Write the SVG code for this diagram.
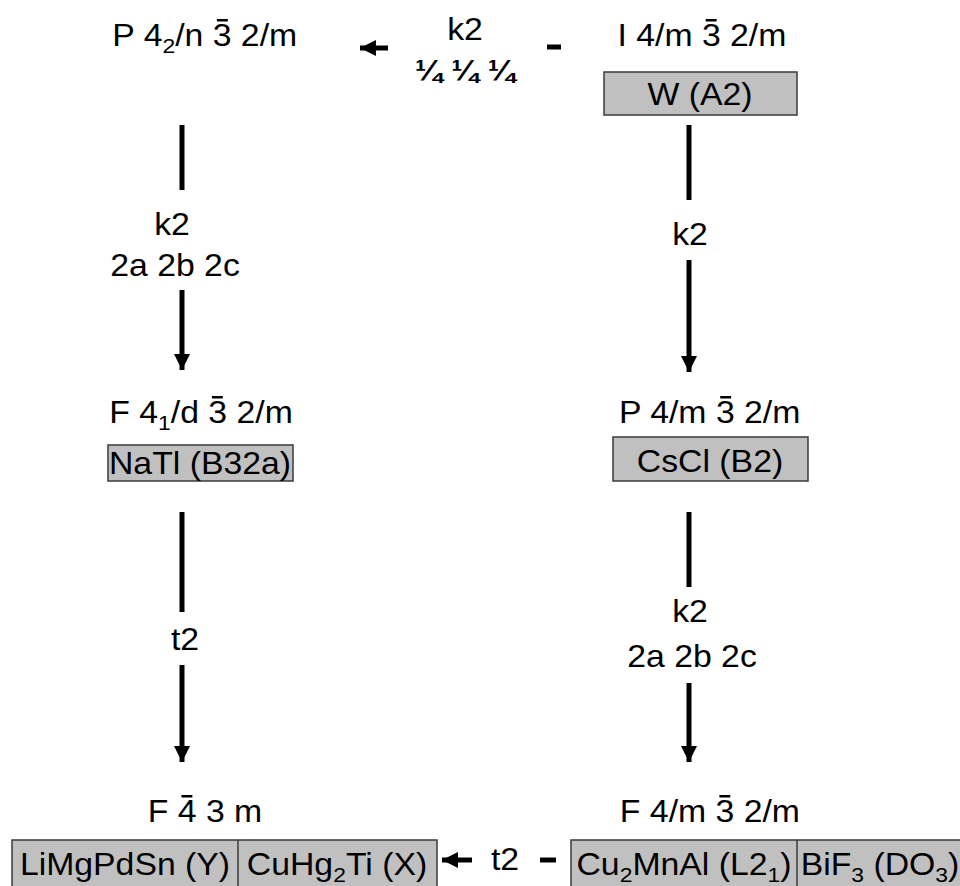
<svg xmlns="http://www.w3.org/2000/svg" width="960" height="886" viewBox="0 0 960 886">
<style>
text{font-family:"Liberation Sans",Arial,sans-serif;font-size:31px;fill:#000}
.m{text-anchor:middle}
.q{font-weight:bold;font-size:30px}
.s{font-size:21px}
.box{fill:#c0c0c0;stroke:#3a3a3a;stroke-width:1.5}
.div{stroke:#3a3a3a;stroke-width:1.5}
.ln{stroke:#000;stroke-width:5;fill:none}
.bar{fill:#000}
</style>
<defs>
<marker id="ah" viewBox="0 0 16 16" refX="16" refY="8" markerWidth="16" markerHeight="16" markerUnits="userSpaceOnUse" orient="auto">
<path d="M0,0 L16,8 L0,16 z" fill="#000"/>
</marker>
</defs>
<rect width="960" height="886" fill="#fff"/>

<g id="connectors">
<line class="ln" x1="182" y1="125" x2="182" y2="190"/>
<line class="ln" x1="182" y1="290" x2="182" y2="370" marker-end="url(#ah)"/>
<line class="ln" x1="689" y1="125" x2="689" y2="200"/>
<line class="ln" x1="689" y1="260" x2="689" y2="372" marker-end="url(#ah)"/>
<line class="ln" x1="182" y1="512" x2="182" y2="612"/>
<line class="ln" x1="182" y1="665" x2="182" y2="762" marker-end="url(#ah)"/>
<line class="ln" x1="689" y1="512" x2="689" y2="587"/>
<line class="ln" x1="689" y1="683" x2="689" y2="762" marker-end="url(#ah)"/>
<line class="ln" x1="547" y1="47" x2="561" y2="47"/>
<line class="ln" x1="388" y1="48" x2="360" y2="48" marker-end="url(#ah)"/>
<line class="ln" x1="540" y1="860" x2="556" y2="860"/>
<line class="ln" x1="472" y1="860" x2="442" y2="860" marker-end="url(#ah)"/>
<g transform="matrix(1.09 0 0 1 -15.48 0)"><text class="m" x="172" y="235">k2</text></g>
<g transform="matrix(1.09 0 0 1 -15.75 0)"><text class="m" x="175" y="276">2a 2b 2c</text></g>
<g transform="matrix(1.09 0 0 1 -62.1 0)"><text class="m" x="690" y="245">k2</text></g>
<g transform="matrix(1.09 0 0 1 -16.65 0)"><text class="m" x="185" y="650">t2</text></g>
<g transform="matrix(1.09 0 0 1 -62.1 0)"><text class="m" x="690" y="622">k2</text></g>
<g transform="matrix(1.09 0 0 1 -62.28 0)"><text class="m" x="692" y="667">2a 2b 2c</text></g>
<g transform="matrix(1.09 0 0 1 -41.85 0)"><text class="m" x="465" y="40">k2</text></g>
<g transform="matrix(1.09 0 0 1 -41.85 0)"><text class="m q" x="465" y="81">¼ ¼ ¼</text></g>
<g transform="matrix(1.09 0 0 1 -45.45 0)"><text class="m" x="505" y="870">t2</text></g>
</g>

<g id="n-p42n">
<g transform="matrix(1.09 0 0 1 -18.45 0)">
<text x="119.99" y="46">P 4<tspan class="s" dy="7">2</tspan><tspan dy="-7">/n 3 2/m</tspan></text>
<rect class="bar" x="215.9" y="19" width="10" height="2.5"/>
</g>
</g>

<g id="n-im3m">
<g transform="matrix(1.09 0 0 1 -63.18 0)">
<text x="624.46" y="46">I 4/m 3 2/m</text>
<rect class="bar" x="705.4" y="19" width="10" height="2.5"/>
</g>
<rect class="box" x="604" y="72" width="193" height="43"/>
<g transform="matrix(1.09 0 0 1 -63 0)"><text class="m" x="700" y="105">W (A2)</text></g>
</g>

<g id="n-fd3m">
<g transform="matrix(1.09 0 0 1 -18.09 0)">
<text x="116.85" y="423">F 4<tspan class="s" dy="7">1</tspan><tspan dy="-7">/d 3 2/m</tspan></text>
<rect class="bar" x="211" y="396" width="10" height="2.5"/>
</g>
<rect class="box" x="108" y="445" width="185" height="36"/>
<g transform="matrix(1.09 0 0 1 -18 0)"><text class="m" x="200" y="474">NaTl (B32a)</text></g>
</g>

<g id="n-pm3m">
<g transform="matrix(1.09 0 0 1 -63.9 0)">
<text x="626.43" y="423">P 4/m 3 2/m</text>
<rect class="bar" x="719.4" y="396" width="10" height="2.5"/>
</g>
<rect class="box" x="613" y="437" width="195" height="44"/>
<g transform="matrix(1.09 0 0 1 -63.9 0)"><text class="m" x="710" y="472">CsCl (B2)</text></g>
</g>

<g id="n-f43m">
<g transform="matrix(1.09 0 0 1 -18.45 0)">
<text x="152.45" y="822">F 4 3 m</text>
<rect class="bar" x="183.4" y="795" width="10" height="2.5"/>
</g>
<rect class="box" x="12" y="840" width="425" height="50"/>
<line class="div" x1="238" y1="840" x2="238" y2="886"/>
<g transform="matrix(1.09 0 0 1 -11.25 0)"><text class="m" x="125" y="875">LiMgPdSn (Y)</text></g>
<g transform="matrix(1.09 0 0 1 -30.33 0)"><text class="m" x="337" y="875">CuHg<tspan class="s" dy="7">2</tspan><tspan dy="-7">Ti (X)</tspan></text></g>
</g>

<g id="n-fm3m">
<g transform="matrix(1.09 0 0 1 -63.9 0)">
<text x="627.3" y="822">F 4/m 3 2/m</text>
<rect class="bar" x="718.6" y="795" width="10" height="2.5"/>
</g>
<rect class="box" x="571" y="840" width="395" height="50"/>
<line class="div" x1="797" y1="840" x2="797" y2="886"/>
<g transform="matrix(1.09 0 0 1 -61.56 0)"><text class="m" x="684" y="875">Cu<tspan class="s" dy="7">2</tspan><tspan dy="-7">MnAl (L2</tspan><tspan class="s" dy="7">1</tspan><tspan dy="-7">)</tspan></text></g>
<g transform="matrix(1.09 0 0 1 -79.2 0)"><text class="m" x="880" y="875">BiF<tspan class="s" dy="7">3</tspan><tspan dy="-7"> (DO</tspan><tspan class="s" dy="7">3</tspan><tspan dy="-7">)</tspan></text></g>
</g>
</svg>
